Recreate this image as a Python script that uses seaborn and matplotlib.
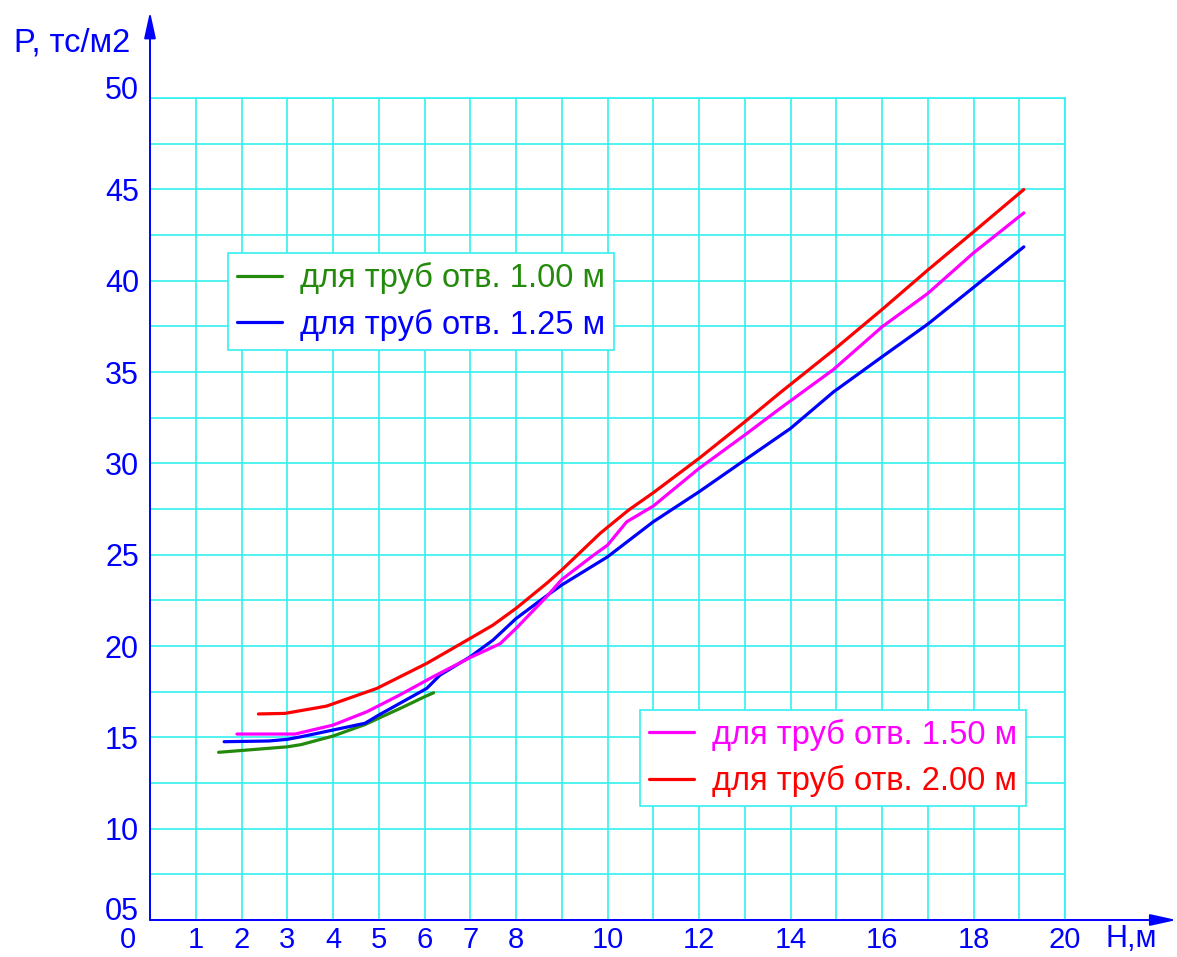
import matplotlib
matplotlib.use("Agg")
import matplotlib.pyplot as plt
import matplotlib.transforms as mtransforms
import numpy as np
import pandas as pd
import seaborn as sns
from matplotlib.lines import Line2D

# values
h_100 = [1.5, 1.9, 2.6, 3.0, 3.3, 4.0, 4.7, 5.0, 5.5, 6.0, 6.2]
p_100 = [14.18, 14.26, 14.4, 14.48, 14.6, 15.07, 15.7, 16.05, 16.62, 17.22, 17.44]

h_125 = [1.62, 2.6, 3.0, 3.3, 4.0, 4.7, 5.0, 5.46, 6.05, 6.34, 7.0, 7.5, 8.0, 8.67, 9.0,
         10.0, 11.0, 12.0, 13.0, 14.0, 14.94, 16.0, 17.0, 18.0, 19.1]
p_125 = [14.76, 14.8, 14.89, 15.03, 15.4, 15.77, 16.22, 16.86, 17.68, 18.41, 19.41, 20.33, 21.5, 22.75, 23.34,
         24.88, 26.8, 28.44, 30.18, 31.91, 33.91, 35.83, 37.62, 39.63, 41.85]

h_150 = [1.9, 3.17, 4.0, 4.74, 5.46, 6.19, 7.0, 7.65, 8.0, 8.67, 9.0, 9.7, 10.0, 10.42, 11.0,
         12.0, 13.0, 13.77, 14.94, 16.0, 17.0, 18.0, 19.1]
p_150 = [15.18, 15.18, 15.67, 16.4, 17.32, 18.32, 19.37, 20.12, 20.96, 22.7, 23.64, 24.98, 25.52, 26.8, 27.66,
         29.72, 31.55, 33.0, 35.14, 37.47, 39.3, 41.52, 43.71]

h_200 = [2.37, 2.95, 3.86, 4.96, 6.05, 7.0, 7.5, 8.0, 8.67, 9.0, 9.84, 10.46, 11.0,
         12.0, 13.0, 13.77, 14.94, 16.0, 17.0, 18.0, 19.1]
p_200 = [16.28, 16.31, 16.71, 17.68, 19.05, 20.42, 21.15, 22.06, 23.43, 24.16, 26.17, 27.44, 28.39,
         30.27, 32.27, 33.86, 36.2, 38.42, 40.58, 42.67, 44.99]

labels = ["для труб отв. 1.00 м", "для труб отв. 1.25 м",
          "для труб отв. 1.50 м", "для труб отв. 2.00 м"]
colors = ["#238a0c", "#0000ff", "#ff00ff", "#ff0000"]
x_ticks = list(range(0, 21))
x_labels = ["" if (k == 0 or (k > 8 and k % 2)) else str(k) for k in x_ticks]
y_ticks = list(np.arange(5, 50.1, 2.5))
y_labels = ["%02d" % v if v % 5 == 0 else "" for v in y_ticks]

frames = []
for h, p, lab in zip([h_100, h_125, h_150, h_200], [p_100, p_125, p_150, p_200], labels):
    frames.append(pd.DataFrame({"H": h, "P": p, "series": lab}))
df = pd.concat(frames, ignore_index=True)

sns.set_style("white")
plt.rcParams["font.family"] = ["Liberation Sans", "DejaVu Sans"]

cyan = "#33f0f0"
blue = "#0000ff"

fig = plt.figure(figsize=(11.77, 9.57), dpi=100)
ax = fig.add_axes([150 / 1177, 37 / 957, 915 / 1177, 822 / 957])

sns.lineplot(data=df, x="H", y="P", hue="series", palette=dict(zip(labels, colors)),
             estimator=None, sort=False, lw=2.3, legend=False, ax=ax, zorder=3)

ax.set_xlim(0, 20)
ax.set_ylim(5, 50)
ax.set_xticks(x_ticks)
ax.set_xticklabels(x_labels)
ax.set_yticks(y_ticks)
ax.set_yticklabels(y_labels)
ax.grid(True, color=cyan, lw=1.2)
ax.tick_params(length=0, labelcolor=blue, labelsize=22)
ax.tick_params(axis="x", pad=4, labelsize=21)
ax.tick_params(axis="y", pad=8)
ax.set_xlabel("")
ax.set_ylabel("")
for s in ["top", "right"]:
    ax.spines[s].set_color(cyan)
    ax.spines[s].set_linewidth(1.2)
for s in ["left", "bottom"]:
    ax.spines[s].set_visible(False)

# the end labels 05 and 50 sit a little above their grid lines
lift = mtransforms.ScaledTranslation(0, 11 / 100, fig.dpi_scale_trans)
ylabs = ax.get_yticklabels()
for i in (0, len(ylabs) - 1):
    ylabs[i].set_transform(ylabs[i].get_transform() + lift)

# "0" sits left of the vertical axis
ax.annotate("0", xy=(-0.48, 0), xycoords=("data", "axes fraction"), xytext=(0, -4),
            textcoords="offset points", ha="center", va="top", color=blue, fontsize=21,
            annotation_clip=False)

# axes with arrows
arrow = dict(arrowstyle="-|>,head_length=1.0,head_width=0.22", color=blue, lw=1.4,
             mutation_scale=16, shrinkA=0, shrinkB=0)
ax.annotate("", xy=(0, 1.105), xytext=(0, 0), xycoords="axes fraction",
            arrowprops=arrow, annotation_clip=False)
ax.annotate("", xy=(1.122, 0), xytext=(0, 0), xycoords="axes fraction",
            arrowprops=arrow, annotation_clip=False)

fig.text(14 / 1177, 1 - 43 / 957, "P, тс/м2", ha="left", va="center", color=blue, fontsize=23.5)
fig.text(1106 / 1177, 1 - 939 / 957, "Н,м", ha="left", va="center", color=blue, fontsize=22)

handles = [Line2D([], [], color=c, lw=2.3) for c in colors]
leg_kw = dict(loc="upper left", borderaxespad=0, frameon=True, fancybox=False,
              edgecolor=cyan, framealpha=1, fontsize=23.5, labelcolor="linecolor",
              handlelength=1.4, handletextpad=0.55, borderpad=0.27, labelspacing=0.45)
leg1 = ax.legend(handles[:2], labels[:2], bbox_to_anchor=(0.0852, 0.811), **leg_kw)
leg1.get_frame().set_linewidth(1.2)
ax.add_artist(leg1)
leg2 = ax.legend(handles[2:], labels[2:], bbox_to_anchor=(0.5355, 0.2555), **leg_kw)
leg2.get_frame().set_linewidth(1.2)

fig.savefig("out.png", dpi=100)
